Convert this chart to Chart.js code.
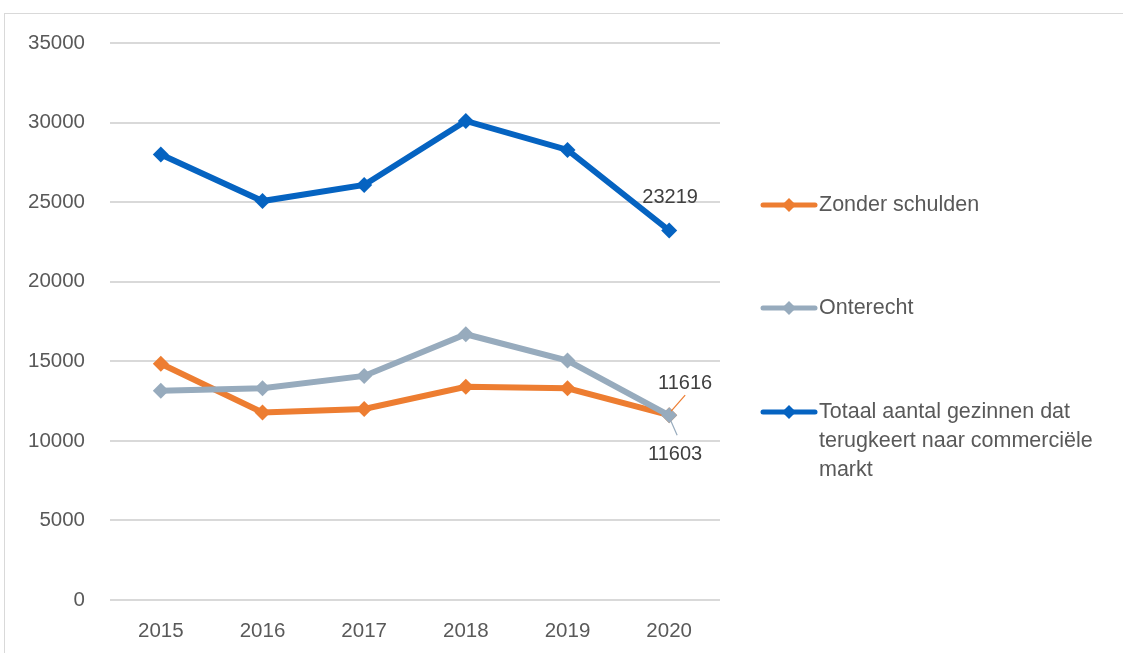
<!DOCTYPE html>
<html><head><meta charset="utf-8">
<script src="https://cdn.jsdelivr.net/npm/chart.js@4.4.0/dist/chart.umd.min.js"></script>
<style>
html,body{margin:0;padding:0;background:#fff;}
#wrap{position:relative;width:1123px;height:653px;overflow:hidden;}
#frame{position:absolute;left:4px;top:13px;width:1200px;height:700px;border:1.5px solid #d9d9d9;box-sizing:border-box;}
canvas{position:absolute;left:0;top:0;}
</style></head><body>
<div id="wrap"><div id="frame"></div><canvas id="c" width="1123" height="653"></canvas></div>
<script>
const years = ['2015','2016','2017','2018','2019','2020'];
const seriesNames = ['Zonder schulden','Onterecht','Totaal aantal gezinnen dat terugkeert naar commerciële markt'];
const zonderSchulden = [14850, 11780, 12000, 13400, 13300, 11616];
const onterecht = [13150, 13300, 14080, 16700, 15050, 11603];
const totaal = [28000, 25070, 26080, 30100, 28280, 23219];
const colors = ['#ED7D31', '#97ABBD', '#0563C1'];
const FONT = "'Liberation Sans', Arial, sans-serif";
const TXT = '#595959';

const overlay = {
  id: 'overlay',
  afterDatasetsDraw(chart) {
    const ctx = chart.ctx;
    const x = chart.scales.x, y = chart.scales.y;
    const i = 5;
    const px = x.getPixelForValue(i);
    ctx.save();
    ctx.lineWidth = 1.2;
    ctx.strokeStyle = colors[0];
    const oy = y.getPixelForValue(zonderSchulden[i]);
    ctx.beginPath(); ctx.moveTo(px + 2, oy - 4); ctx.lineTo(px + 16, oy - 20); ctx.stroke();
    ctx.strokeStyle = colors[1];
    const gy = y.getPixelForValue(onterecht[i]);
    ctx.beginPath(); ctx.moveTo(px + 1, gy + 4); ctx.lineTo(px + 8, gy + 20); ctx.stroke();
    ctx.fillStyle = '#404040';
    ctx.font = '20px ' + FONT;
    ctx.textAlign = 'center'; ctx.textBaseline = 'middle';
    ctx.fillText(String(totaal[i]), px + 1, y.getPixelForValue(totaal[i]) - 33);
    ctx.fillText(String(zonderSchulden[i]), px + 16, oy - 32);
    ctx.fillText(String(onterecht[i]), px + 6, gy + 39);
    const items = [
      {c: colors[0], lines: ['Zonder schulden'], y: 205},
      {c: colors[1], lines: ['Onterecht'], y: 308},
      {c: colors[2], lines: ['Totaal aantal gezinnen dat', 'terugkeert naar commerciële', 'markt'], y: 412}
    ];
    ctx.textAlign = 'left';
    ctx.font = '21.5px ' + FONT;
    items.forEach(it => {
      ctx.strokeStyle = it.c; ctx.lineWidth = 5; ctx.lineCap = 'round';
      ctx.beginPath(); ctx.moveTo(763, it.y); ctx.lineTo(815, it.y); ctx.stroke();
      ctx.fillStyle = it.c;
      ctx.beginPath(); ctx.moveTo(789, it.y - 7); ctx.lineTo(796, it.y); ctx.lineTo(789, it.y + 7); ctx.lineTo(782, it.y); ctx.closePath(); ctx.fill();
      ctx.fillStyle = TXT;
      it.lines.forEach((t, k) => ctx.fillText(t, 819, it.y + k * 29));
    });
    ctx.restore();
  }
};

const mk = (label, data, color, order) => ({
  label, data, borderColor: color, backgroundColor: color,
  borderWidth: 6, pointStyle: 'rectRot', pointRadius: 8, pointHoverRadius: 8,
  pointBorderWidth: 0, pointBackgroundColor: color, tension: 0, order
});

new Chart(document.getElementById('c'), {
  type: 'line',
  data: {
    labels: years,
    datasets: [
      mk(seriesNames[0], zonderSchulden, colors[0], 3),
      mk(seriesNames[1], onterecht, colors[1], 2),
      mk(seriesNames[2], totaal, colors[2], 1)
    ]
  },
  options: {
    responsive: false, animation: false,
    layout: {padding: {left: 0, top: 43, right: 403, bottom: 0}},
    plugins: {legend: {display: false}, tooltip: {enabled: false}},
    scales: {
      x: {
        offset: true,
        grid: {display: false, drawTicks: false},
        border: {display: false},
        ticks: {color: TXT, font: {family: FONT, size: 20.5}, padding: 19},
        afterFit(s) { s.height = 53; }
      },
      y: {
        min: 0, max: 35000,
        grid: {color: '#d9d9d9', lineWidth: 2, drawTicks: false},
        border: {display: false},
        ticks: {stepSize: 5000, color: TXT, font: {family: FONT, size: 20.5}, padding: 25,
                callback: v => String(v)},
        afterFit(s) { s.width = 110; }
      }
    }
  },
  plugins: [overlay]
});
</script>
</body></html>
